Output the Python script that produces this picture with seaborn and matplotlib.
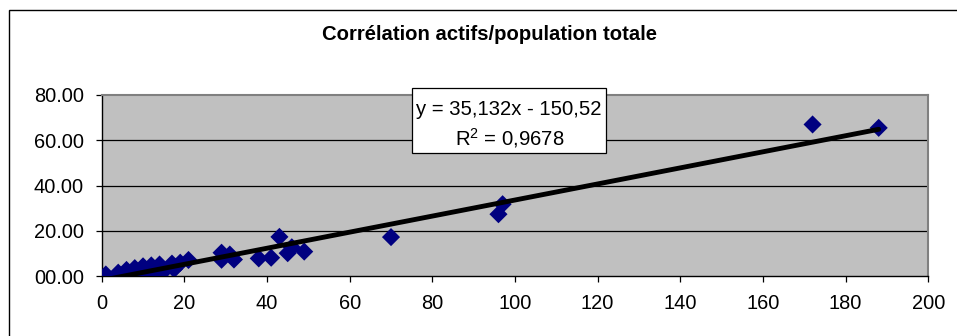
import matplotlib
matplotlib.use("Agg")
import matplotlib.pyplot as plt
from matplotlib.patches import Rectangle
import pandas as pd
import seaborn as sns

# Population totale (x) et actifs (y) par commune
population = [1, 4, 5, 6, 7, 8, 9, 10, 11, 12, 13, 14, 15, 17, 17.5, 18, 19, 21,
              29, 31, 29, 32, 38, 41, 43, 45, 46, 49, 70, 96, 97, 172, 188]
actifs = [0.8, 1.6, 0.6, 2.8, 1.3, 3.6, 2.0, 4.4, 2.6, 4.8, 1.8, 5.2, 2.2, 5.6, 3.2, 4.2, 6.0, 7.2,
          10.4, 9.6, 7.3, 7.4, 7.9, 8.2, 17.4, 10.2, 12.8, 10.9, 17.3, 27.4, 31.8, 67.0, 65.5]

x_ticks = [0, 20, 40, 60, 80, 100, 120, 140, 160, 180, 200]
y_ticks = [0, 20, 40, 60, 80]
y_tick_labels = ["00.00", "20.00", "40.00", "60.00", "80.00"]

title = "Corrélation actifs/population totale"
equation = "y = 35,132x - 150,52"
r_squared = "R$^{2}$ = 0,9678"

df = pd.DataFrame({"population": population, "actifs": actifs})

sns.set_theme(style="white")
plt.rcParams["font.family"] = ["Liberation Sans", "DejaVu Sans"]
plt.rcParams["mathtext.fontset"] = "custom"
plt.rcParams["mathtext.rm"] = "Liberation Sans"
plt.rcParams["mathtext.it"] = "Liberation Sans"
plt.rcParams["mathtext.bf"] = "Liberation Sans:bold"
plt.rcParams["mathtext.default"] = "regular"

W, H = 957, 336
fig = plt.figure(figsize=(W / 100, H / 100), dpi=100)
fig.patch.set_facecolor("white")

def fx(px):
    return px / W

def fy(py):
    return 1 - py / H

ax = fig.add_axes([fx(101.7), fy(276.3), fx(928.3) - fx(101.7), fy(95) - fy(276.3)])
ax.set_facecolor("#C0C0C0")

sns.regplot(data=df, x="population", y="actifs", ax=ax, ci=None, truncate=True,
            marker="D",
            scatter_kws={"s": 85, "color": "#000080", "alpha": 1.0,
                         "edgecolors": "none", "zorder": 3},
            line_kws={"color": "black", "linewidth": 3.5, "zorder": 4,
                      "solid_capstyle": "round"})

ax.set_xlim(0, 200)
ax.set_ylim(0, 80)
ax.set_xticks(x_ticks)
ax.set_yticks(y_ticks)
ax.set_yticklabels(y_tick_labels)
ax.set_xlabel("")
ax.set_ylabel("")

for v in y_ticks[1:-1]:
    ax.axhline(v, color="black", linewidth=0.9, zorder=1)

ax.tick_params(axis="both", which="both", direction="out", length=4.5, width=0.9,
               color="black", labelsize=14.4, labelcolor="black")
ax.tick_params(axis="y", pad=8.4)
ax.tick_params(axis="x", pad=8.5)
ax.yaxis.set_ticks_position("left")
ax.xaxis.set_ticks_position("bottom")

for side in ("left", "bottom"):
    ax.spines[side].set_color("black")
    ax.spines[side].set_linewidth(1.0)
for side in ("top", "right"):
    ax.spines[side].set_color("#808080")
    ax.spines[side].set_linewidth(1.5)

# Outer chart border
fig.patches.append(Rectangle((fx(9), fy(400)), fx(1200), fy(10) - fy(400),
                             transform=fig.transFigure, fill=False,
                             edgecolor="black", linewidth=1.0, zorder=0))

fig.text(fx(489), fy(39.5), title, ha="center", va="baseline",
         fontsize=14.6, fontweight="bold", color="black")

# Trendline label box
fig.patches.append(Rectangle((fx(411.7), fy(152.7)), fx(606) - fx(411.7), fy(88.3) - fy(152.7),
                             transform=fig.transFigure, facecolor="white",
                             edgecolor="black", linewidth=0.9, zorder=5))
fig.text(fx(509), fy(115), equation, ha="center", va="baseline",
         fontsize=14.6, color="black", zorder=6)
fig.text(fx(509.5), fy(145), r_squared, ha="center", va="baseline",
         fontsize=14.6, color="black", zorder=6)

fig.savefig("out.png", dpi=100)
